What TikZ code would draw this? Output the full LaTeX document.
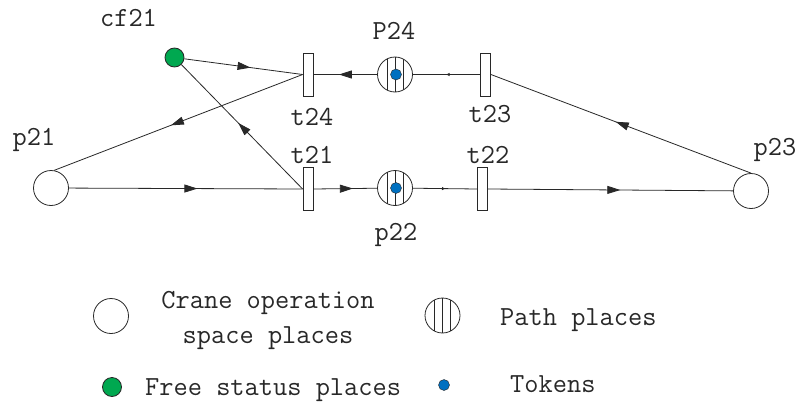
\documentclass[tikz,border=0pt]{standalone}
\usepackage{fontspec}
\usetikzlibrary{arrows.meta,decorations.markings}
\definecolor{freegreen}{RGB}{0,168,80}
\definecolor{tokblue}{RGB}{0,112,192}
\definecolor{ink}{RGB}{40,40,40}
\tikzset{
  every node/.style={font=\ttfamily\fontsize{27.6}{34}\selectfont, text=ink},
  lbl/.style={inner sep=0pt, anchor=base},
  lblw/.style={inner sep=0pt, anchor=base west},
  place/.style={circle, draw=ink, line width=0.8pt, fill=white, minimum size=35pt, inner sep=0pt},
  pathplace/.style={place, path picture={
      \foreach \dx in {-8,0,8}
        \draw[line width=0.8pt, ink] ([xshift=\dx pt]path picture bounding box.south) -- ([xshift=\dx pt]path picture bounding box.north);}},
  freeplace/.style={circle, draw=ink, line width=0.8pt, fill=freegreen, minimum size=19pt, inner sep=0pt},
  tokendot/.style={circle, draw=ink, line width=0.4pt, fill=tokblue, minimum size=11pt, inner sep=0pt},
  trans/.style={rectangle, draw=ink, line width=0.8pt, fill=white, minimum width=10pt, minimum height=43pt, inner sep=0pt},
  edge/.style={draw=ink, line width=0.8pt},
  midarrow/.style={postaction={decorate}, decoration={markings,
      mark=at position #1 with {\arrow[ink]{Triangle[length=13pt,width=8pt]}}}},
  tinyarrow/.style={postaction={decorate}, decoration={markings,
      mark=at position #1 with {\arrow[ink]{Triangle[length=3pt,width=3pt]}}}},
}
\begin{document}
\begin{tikzpicture}[x=1pt, y=-1pt]
\useasboundingbox (0,0) rectangle (799,404);
\fill[white] (0,0) rectangle (799,404);
% places and transitions
\node[freeplace] (cf21) at (174.5,57.5) {};
\node[trans] (t24) at (308,74.5) {};
\node[pathplace] (P24) at (395,74.5) {};
\node[tokendot] (tokP24) at (396,74.5) {};
\node[trans] (t23) at (485.5,74.5) {};
\node[place] (p21) at (51,188) {};
\node[trans] (t21) at (308,189) {};
\node[pathplace] (p22) at (395,188) {};
\node[tokendot] (tokp22) at (396,188) {};
\node[trans] (t22) at (482.5,189) {};
\node[place] (p23) at (751,191) {};
% labels
\node[lbl] (Lcf21) at (128.5,27) {cf21};
\node[lbl] (LP24) at (394,40) {P24};
\node[lbl] (Lt24) at (312,125) {t24};
\node[lbl] (Lp21) at (34,145) {p21};
\node[lbl] (Lt21) at (312,163) {t21};
\node[lbl] (Lt23) at (490,122) {t23};
\node[lbl] (Lt22) at (488,163) {t22};
\node[lbl] (Lp23) at (775,155) {p23};
\node[lbl] (Lp22) at (396,240) {p22};
% arcs
\draw[edge, midarrow=0.56] (cf21) -- (t24.west);
\draw[edge, midarrow=0.6] (P24) -- (t24.east);
\draw[edge, tinyarrow=0.5] (t23.west) -- (P24);
\draw[edge, midarrow=0.52] (p23.north) -- (t23.east);
\draw[edge, midarrow=0.53] (t24.west) -- (p21.80);
\draw[edge, midarrow=0.55] (p21) -- (t21.west);
\draw[edge, midarrow=0.53] (t21.west) -- (cf21);
\draw[edge, midarrow=0.62] (t21.east) -- (p22);
\draw[edge, tinyarrow=0.5] (p22) -- (t22.west);
\draw[edge, midarrow=0.54] (t22.east) -- (p23);
% legend
\node[place] (legCrane) at (111,316) {};
\node[lbl] (legCraneT1) at (268,308) {Crane operation};
\node[lbl] (legCraneT2) at (268,343) {space places};
\node[pathplace] (legPath) at (442.5,315.5) {};
\node[lblw] (legPathT) at (500,325) {Path places};
\node[freeplace] (legFree) at (112,387) {};
\node[lblw] (legFreeT) at (145,395) {Free status places};
\node[tokendot] (legTok) at (444,385) {};
\node[lblw] (legTokT) at (510,392) {Tokens};
\end{tikzpicture}
\end{document}
